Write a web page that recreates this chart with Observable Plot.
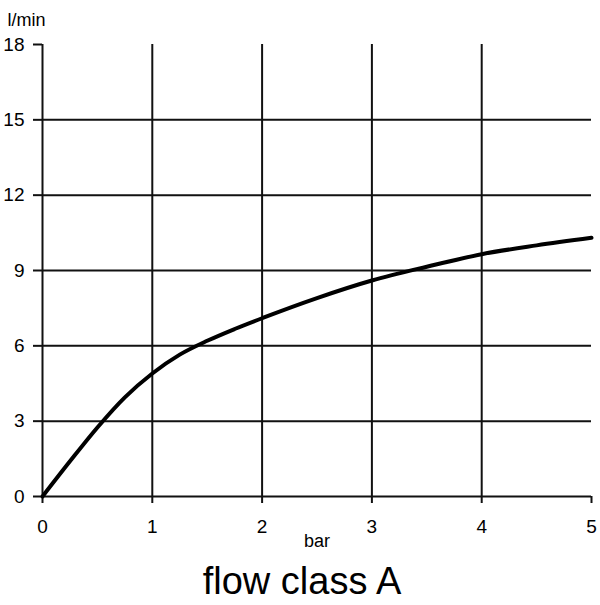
<!DOCTYPE html>
<html>
<head>
<meta charset="utf-8">
<script src="https://cdn.jsdelivr.net/npm/d3@7"></script>
<script src="https://cdn.jsdelivr.net/npm/@observablehq/plot@0.6"></script>
<style>
  html, body { margin: 0; padding: 0; background: #fff; }
  #chart { width: 600px; }
  #title { width: 600px; text-align: center; font-family: "Liberation Sans", Arial, sans-serif; font-size: 38px; line-height: 42px; margin-top: 0px; padding-left: 4px; box-sizing: border-box; color: #000; }
</style>
</head>
<body>
<div id="chart"></div>
<div id="title">flow class A</div>
<script>
const pressure = [0, 0.25, 0.5, 0.75, 1, 1.25, 1.5, 1.75, 2, 2.5, 3, 3.5, 4, 4.5, 5];
const flow     = [0, 1.4, 2.75, 3.95, 4.9, 5.65, 6.2, 6.67, 7.1, 7.9, 8.6, 9.15, 9.65, 10.0, 10.3];
const xTicks = [0, 1, 2, 3, 4, 5];
const yTicks = [0, 3, 6, 9, 12, 15, 18];
const xGrid = [0, 1, 2, 3, 4];
const yGrid = [0, 3, 6, 9, 12, 15];
const xLabel = "bar";
const yLabel = "l/min";

const data = pressure.map((p, i) => ({p, f: flow[i]}));
const font = "Liberation Sans, Arial, sans-serif";

const chart = Plot.plot({
  width: 600,
  height: 560,
  marginLeft: 42,
  marginRight: 9,
  marginTop: 44,
  marginBottom: 64,
  style: {fontFamily: font, fontSize: "19px", color: "#000", background: "#fff", overflow: "visible"},
  x: {domain: [0, 5]},
  y: {domain: [0, 18]},
  marks: [
    Plot.ruleX(xGrid, {stroke: "#111", strokeWidth: 2, y1: 0, y2: 18}),
    Plot.ruleY(yGrid, {stroke: "#111", strokeWidth: 2, x1: 0, x2: 5}),
    Plot.axisX({ticks: xTicks, tickSize: 7, tickPadding: 16, label: null, stroke: "#111", strokeWidth: 2, tickFormat: d => String(d)}),
    Plot.axisY({ticks: yTicks, tickSize: 9, tickPadding: 9, label: null, stroke: "#111", strokeWidth: 2, tickFormat: d => String(d)}),
    Plot.line(data, {x: "p", y: "f", stroke: "#000", strokeWidth: 4, curve: "monotone-x"}),
    Plot.text([xLabel], {frameAnchor: "bottom", dy: 50, fontSize: 18, letterSpacing: -1, fill: "#000"}),
    Plot.text([yLabel], {frameAnchor: "top-left", dx: -35, dy: -31, textAnchor: "start", fontSize: 18, letterSpacing: -1, fill: "#000"})
  ]
});
document.getElementById("chart").appendChild(chart);
</script>
</body>
</html>
